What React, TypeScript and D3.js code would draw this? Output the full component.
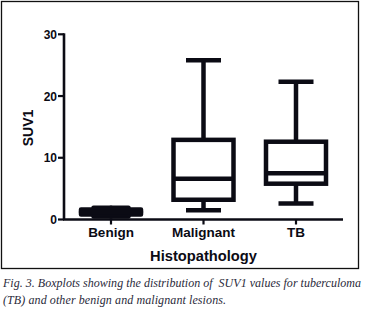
import React from "react";
import * as d3 from "d3";

const categories = ["Benign", "Malignant", "TB"];
const whiskerMin = [0.5, 1.5, 2.6];
const q1 = [0.8, 3.2, 5.8];
const median = [1.2, 6.6, 7.5];
const q3 = [1.6, 12.9, 12.6];
const whiskerMax = [1.9, 25.8, 22.3];
const yTicks = [0, 10, 20, 30];
const filled = [true, false, false];

export default function App() {
  const W = 365, H = 315;
  const y = d3.scaleLinear().domain([0, 30]).range([219.5, 34.3]);
  const x = d3.scalePoint<string>().domain(categories).range([111, 296]);
  const boxW = 60;
  const capW = 35;
  const sw = 4.5;
  const font = "Liberation Sans, Arial, sans-serif";
  const ink = "#0b0b14";
  return (
    <svg width={W} height={H} style={{ position: "absolute", left: 0, top: 0, background: "#fff" }}>
      <rect x={1.5} y={1.5} width={357} height={267} fill="none" stroke="#111" strokeWidth={1.3} />
      {/* y axis */}
      <line x1={64} x2={64} y1={y(30) - 1} y2={y(0)} stroke={ink} strokeWidth={2.6} />
      {yTicks.map((t) => (
        <g key={t}>
          <line x1={58} x2={64} y1={y(t)} y2={y(t)} stroke={ink} strokeWidth={2.2} />
          <text x={57} y={y(t) + 4.5} textAnchor="end" fontFamily={font} fontWeight="bold" fontSize={12} fill={ink}>
            {t}
          </text>
        </g>
      ))}
      <text
        transform={`translate(33,128) rotate(-90)`}
        textAnchor="middle"
        fontFamily={font}
        fontWeight="bold"
        fontSize={14}
        fill={ink}
      >
        SUV1
      </text>
      {/* x axis */}
      <line x1={63} x2={343} y1={y(0)} y2={y(0)} stroke={ink} strokeWidth={2.6} />
      {categories.map((c) => (
        <g key={c}>
          <line x1={x(c)!} x2={x(c)!} y1={y(0)} y2={y(0) + 5} stroke={ink} strokeWidth={2.2} />
          <text x={x(c)!} y={237} textAnchor="middle" fontFamily={font} fontWeight="bold" fontSize={13.5} fill={ink}>
            {c}
          </text>
        </g>
      ))}
      <text x={203.5} y={261} textAnchor="middle" fontFamily={font} fontWeight="bold" fontSize={14.7} fill={ink}>
        Histopathology
      </text>
      {/* boxes */}
      {categories.map((c, i) => {
        const cx = x(c)!;
        return (
          <g key={c} stroke={ink} strokeWidth={sw} strokeLinejoin={filled[i] ? "round" : "miter"} strokeLinecap={filled[i] ? "round" : "butt"}>
            <line x1={cx} x2={cx} y1={y(whiskerMax[i])} y2={y(q3[i])} />
            <line x1={cx} x2={cx} y1={y(q1[i])} y2={y(whiskerMin[i])} />
            <line x1={cx - capW / 2} x2={cx + capW / 2} y1={y(whiskerMax[i])} y2={y(whiskerMax[i])} />
            <line x1={cx - capW / 2} x2={cx + capW / 2} y1={y(whiskerMin[i])} y2={y(whiskerMin[i])} />
            <rect
              x={cx - boxW / 2}
              y={y(q3[i])}
              width={boxW}
              height={y(q1[i]) - y(q3[i])}
              fill={filled[i] ? ink : "none"}
            />
            <line x1={cx - boxW / 2} x2={cx + boxW / 2} y1={y(median[i])} y2={y(median[i])} />
          </g>
        );
      })}
      {/* caption */}
      <text x={3} y={287} fontFamily="Liberation Serif, serif" fontStyle="italic" fontSize={12} fill="#2a2a3a" textLength={358} lengthAdjust="spacing" style={{ whiteSpace: "pre" }}>
        {"Fig. 3. Boxplots showing the distribution of  SUV1 values for tuberculoma"}
      </text>
      <text x={3} y={304} fontFamily="Liberation Serif, serif" fontStyle="italic" fontSize={12} fill="#2a2a3a" textLength={223} lengthAdjust="spacing">
        (TB) and other benign and malignant lesions.
      </text>
    </svg>
  );
}
